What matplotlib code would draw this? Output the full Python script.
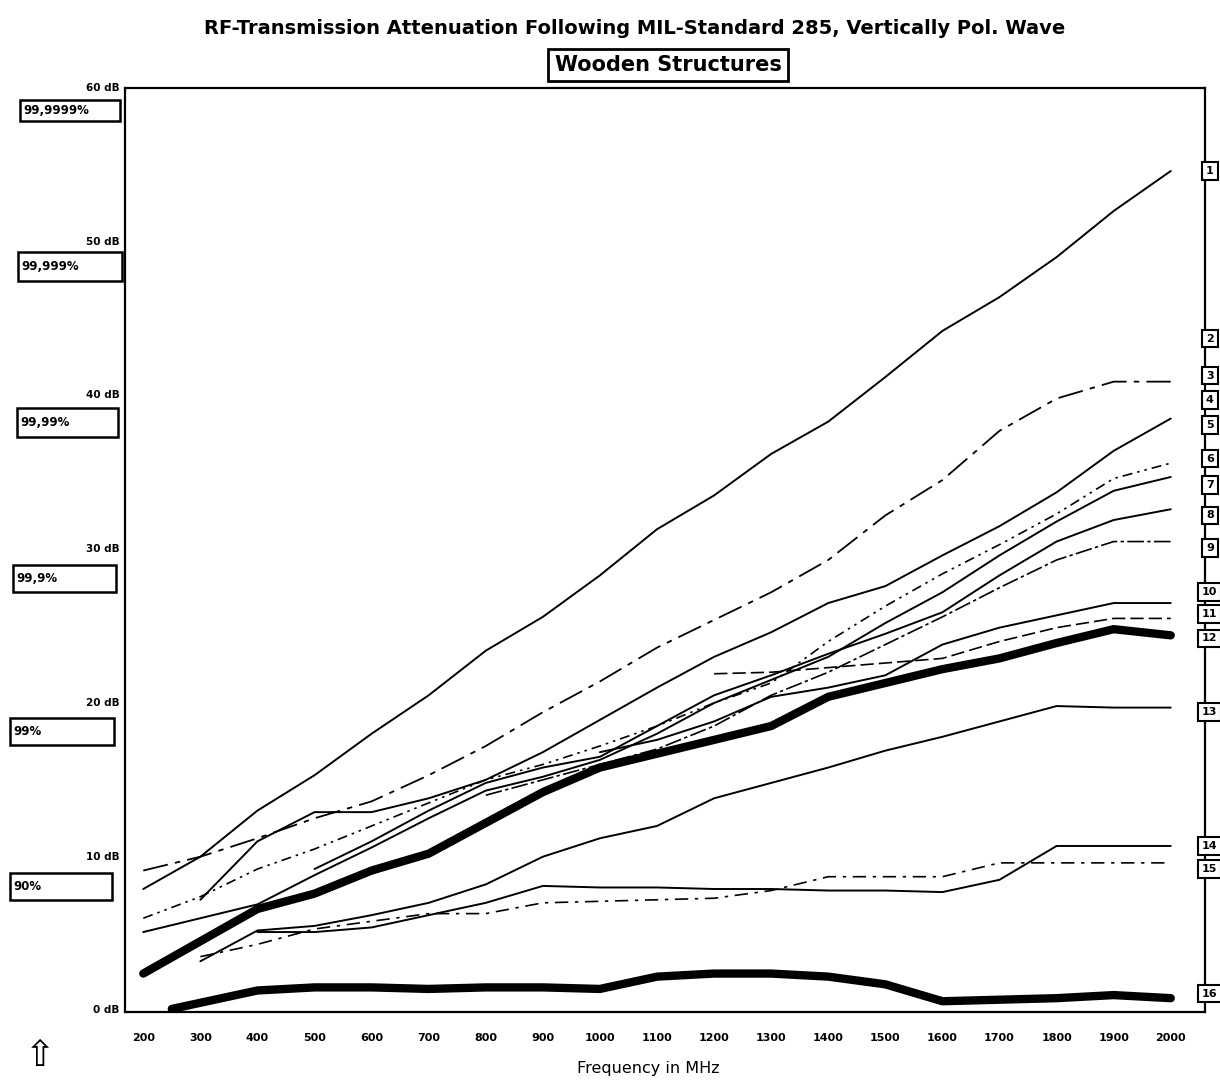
import numpy as np
import matplotlib.pyplot as plt
from matplotlib.patches import Rectangle

plt.rcParams['font.family'] = ['Liberation Sans Narrow', 'DejaVu Sans']

nan = np.nan

# frequency grid in MHz
freq = [200, 300, 400, 500, 600, 700, 800, 900, 1000, 1100,
        1200, 1300, 1400, 1500, 1600, 1700, 1800, 1900, 2000]

# attenuation in dB for each sample
att_1 = [7.9, 10.0, 13.0, 15.3, 18.0, 20.5, 23.4, 25.6, 28.3, 31.3,
         33.5, 36.2, 38.3, 41.2, 44.2, 46.4, 49.0, 52.0, 54.6]
att_2 = [9.1, 10.0, 11.2, 12.5, 13.6, 15.3, 17.2, 19.4, 21.4, 23.6,
         25.4, 27.2, 29.3, 32.2, 34.5, 37.7, 39.8, 40.9, 40.9]
att_5 = [nan, 7.2, 11.0, 12.9, 12.9, 13.8, 15.0, 16.8, 18.9, 21.0,
         23.0, 24.6, 26.5, 27.6, 29.6, 31.5, 33.7, 36.4, 38.5]
att_6 = [6.0, 7.4, 9.2, 10.5, 12.0, 13.5, 15.0, 16.0, 17.2, 18.5,
         20.0, 21.3, 24.0, 26.3, 28.4, 30.3, 32.3, 34.6, 35.6]
att_7 = [5.1, 6.0, 6.9, 8.8, 10.6, 12.5, 14.3, 15.2, 16.3, 18.0,
         20.0, 21.5, 23.0, 25.2, 27.2, 29.6, 31.8, 33.8, 34.7]
att_8 = [nan, nan, nan, 9.2, 11.0, 13.0, 14.8, 15.8, 16.5, 18.5,
         20.5, 21.8, 23.2, 24.5, 25.9, 28.3, 30.5, 31.9, 32.6]
att_9 = [nan, nan, nan, nan, nan, nan, 14.0, 15.0, 16.0, 17.0,
         18.5, 20.5, 22.0, 23.8, 25.6, 27.5, 29.3, 30.5, 30.5]
att_10 = [nan, nan, nan, nan, nan, nan, nan, nan, 16.8, 17.6,
          18.8, 20.4, 21.0, 21.8, 23.8, 24.9, 25.7, 26.5, 26.5]
att_11 = [nan, nan, nan, nan, nan, nan, nan, nan, nan, nan,
          21.9, 22.0, 22.3, 22.6, 22.9, 24.0, 24.9, 25.5, 25.5]
att_12 = [2.4, 4.5, 6.6, 7.6, 9.1, 10.2, 12.2, 14.2, 15.8, 16.7,
          17.6, 18.5, 20.4, 21.3, 22.2, 22.9, 23.9, 24.8, 24.4]
att_13 = [nan, 3.2, 5.2, 5.5, 6.2, 7.0, 8.2, 10.0, 11.2, 12.0,
          13.8, 14.8, 15.8, 16.9, 17.8, 18.8, 19.8, 19.7, 19.7]
att_14 = [nan, nan, 5.1, 5.1, 5.4, 6.2, 7.0, 8.1, 8.0, 8.0,
          7.9, 7.9, 7.8, 7.8, 7.7, 8.5, 10.7, 10.7, 10.7]
att_15 = [nan, 3.5, 4.3, 5.3, 5.8, 6.3, 6.3, 7.0, 7.1, 7.2,
          7.3, 7.8, 8.7, 8.7, 8.7, 9.6, 9.6, 9.6, 9.6]

# the lowest curve starts a little later
freq_16 = [250, 300, 400, 500, 600, 700, 800, 900, 1000, 1100,
           1200, 1300, 1400, 1500, 1600, 1700, 1800, 1900, 2000]
att_16 = [0.1, 0.5, 1.3, 1.5, 1.5, 1.4, 1.5, 1.5, 1.4, 2.2,
          2.4, 2.4, 2.2, 1.7, 0.6, 0.7, 0.8, 1.0, 0.8]

# left hand scale: dB levels and screening efficiency
db_levels = [0, 10, 20, 30, 40, 50, 60]
shield_pct = [None, '90%', '99%', '99,9%', '99,99%', '99,999%', '99,9999%']

# numbered boxes on the right border and their heights in dB
box_nums = list(range(1, 17))
box_db = [54.6, 43.7, 41.3, 39.7, 38.1, 35.9, 34.2, 32.2, 30.1,
          27.2, 25.8, 24.2, 19.4, 10.7, 9.2, 1.1]

series = [
    (freq, att_1, '-', 1.4),
    (freq, att_2, (0, (14, 4, 3, 4)), 1.3),
    (freq, att_5, '-', 1.4),
    (freq, att_6, (0, (6, 3, 1.5, 3, 1.5, 3)), 1.2),
    (freq, att_7, '-', 1.4),
    (freq, att_8, '-', 1.4),
    (freq, att_9, (0, (10, 2, 2, 2)), 1.2),
    (freq, att_10, '-', 1.4),
    (freq, att_11, (0, (8, 3)), 1.2),
    (freq, att_12, '-', 6.0),
    (freq, att_13, '-', 1.4),
    (freq, att_14, '-', 1.4),
    (freq, att_15, (0, (8, 4, 2, 4)), 1.2),
    (freq_16, att_16, '-', 6.0),
]

W, H = 1220, 1080
fig = plt.figure(figsize=(W / 100, H / 100), dpi=100)
ax = fig.add_axes([125 / W, 68 / H, 1080 / W, 924 / H])

for fx, vals, ls, lw in series:
    ax.plot(fx, vals, color='black', linestyle=ls, linewidth=lw,
            solid_capstyle='round', solid_joinstyle='round')

ax.set_xlim(168, 2060)
ax.set_ylim(-0.1, 60)
ax.set_xticks([])
ax.set_yticks([])
for sp in ax.spines.values():
    sp.set_linewidth(1.6)

# frequency labels
for f in freq:
    ax.text(f, -1.45, str(f), ha='center', va='top', fontsize=8,
            fontweight='bold', clip_on=False)
fig.text(648 / W, 1 - 1068 / H, 'Frequency in MHz', ha='center',
         va='center', fontsize=11.5)

# dB labels with percentage boxes (pixel layout of the left margin)
box_px = {10: (10, 112, 873, 900), 20: (10, 114, 718, 745),
          30: (13, 116, 565, 592), 40: (17, 118, 408, 437),
          50: (18, 122, 252, 281), 60: (20, 120, 100, 121)}
for lvl, pct in zip(db_levels, shield_pct):
    ax.text(-0.005, lvl, f'{lvl} dB', transform=ax.get_yaxis_transform(),
            ha='right', va='center', fontsize=7.5, fontweight='bold',
            clip_on=False)
    if pct:
        x0, x1, y0, y1 = box_px[lvl]
        fig.patches.append(Rectangle((x0 / W, 1 - y1 / H), (x1 - x0) / W,
                                     (y1 - y0) / H, transform=fig.transFigure,
                                     fill=False, ec='black', lw=1.8))
        fig.text((x0 + 3) / W, 1 - (y0 + y1) / 2 / H, pct, ha='left',
                 va='center', fontsize=8.5, fontweight='bold')

# numbered boxes on the right border
for n, d in zip(box_nums, box_db):
    ax.text(1.0045, d, str(n), transform=ax.get_yaxis_transform(),
            ha='center', va='center', fontsize=8, fontweight='bold',
            clip_on=False,
            bbox=dict(boxstyle='square,pad=0.35', fc='white', ec='black',
                      lw=1.5))

fig.text(0.52, 0.974, 'RF-Transmission Attenuation Following MIL-Standard 285, '
         'Vertically Pol. Wave', ha='center', va='center', fontsize=14,
         fontweight='bold')
fig.text(668 / W, 1 - 65 / H, 'Wooden Structures', ha='center', va='center',
         fontsize=15, fontweight='bold',
         bbox=dict(boxstyle='square,pad=0.3', fc='white', ec='black', lw=2.0))

fig.text(40 / W, 1 - 1056 / H, '\u21e7', ha='center', va='center',
         fontsize=26, family='DejaVu Sans')

fig.savefig('out.png', dpi=100)
